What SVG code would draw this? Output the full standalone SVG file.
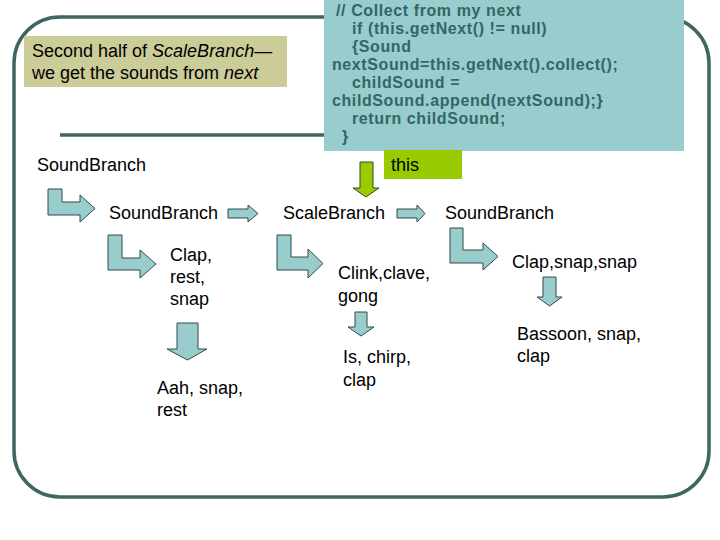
<svg xmlns="http://www.w3.org/2000/svg" width="720" height="540" viewBox="0 0 720 540">
<style>
.frame{fill:none;stroke:#3e6662;stroke-width:3.5}
.lbl{font-family:"Liberation Sans",Arial,sans-serif;font-size:18px;fill:#000}
.code{font-family:"Liberation Sans",Arial,sans-serif;font-size:16px;font-weight:bold;fill:#336666;letter-spacing:0.6px}
.arr{fill:#99cccc;stroke:#2f4a4a;stroke-width:1}
.garr{fill:#99cc00;stroke:#2f4a2a;stroke-width:1}
</style>
<rect width="720" height="540" fill="#fff"/>
<g id="frame">
<rect class="frame" x="14" y="17" width="695" height="480" rx="46" ry="46"/>
<line class="frame" x1="60" y1="135" x2="330" y2="135" stroke-width="4"/>
</g>
<g id="code-box">
<rect x="324" y="0" width="360" height="151" fill="#99cccc"/>
<text class="code" x="336" y="16">// Collect from my next</text>
<text class="code" x="352" y="34">if (this.getNext() != null)</text>
<text class="code" x="352" y="52">{Sound</text>
<text class="code" x="332" y="70">nextSound=this.getNext().collect();</text>
<text class="code" x="352" y="88">childSound =</text>
<text class="code" x="332" y="106">childSound.append(nextSound);}</text>
<text class="code" x="352" y="124">return childSound;</text>
<text class="code" x="342" y="142">}</text>
</g>
<g id="title">
<rect x="24" y="36" width="263" height="51" fill="#cccc99"/>
<text class="lbl" x="32" y="57">Second half of <tspan font-style="italic">ScaleBranch</tspan>—</text>
<text class="lbl" x="32" y="79">we get the sounds from <tspan font-style="italic">next</tspan></text>
</g>
<g id="this-label">
<rect x="384" y="150" width="78" height="29" fill="#99cc00"/>
<text class="lbl" x="391" y="171">this</text>
</g>
<g id="connectors">
<path class="garr" d="M360,162 H373 V188 H379 L366,197 L353,188 H360 Z"/>
<path class="arr" d="M48,189 H62 V202 H80 V195 L95,208.5 L80,222 V215 H48 Z"/>
<path class="arr" d="M108,235 H122 V258 H140 V250 L156,264 L140,278 V270 H108 Z"/>
<path class="arr" d="M277,235 H291 V257 H308 V249 L323,263.5 L308,278 V270 H277 Z"/>
<path class="arr" d="M450,228 H463 V250 H483 V243 L498,256.5 L483,270 V263 H450 Z"/>
<path class="arr" d="M228,209 H248 V205 L258,213.5 L248,222 V218 H228 Z"/>
<path class="arr" d="M397,209 H417 V205 L425,213.5 L417,222 V218 H397 Z"/>
<path class="arr" d="M177,323 H198 V349 H207 L187.5,360 L167,349 H177 Z"/>
<path class="arr" d="M355,312 H367 V327 H374 L361,336 L348,327 H355 Z"/>
<path class="arr" d="M543,277 H556 V297 H562 L549.5,306 L537,297 H543 Z"/>
</g>
<g id="node-soundbranch-root"><text class="lbl" x="37" y="171">SoundBranch</text></g>
<g id="node-soundbranch-1"><text class="lbl" x="109" y="219">SoundBranch</text></g>
<g id="node-scalebranch"><text class="lbl" x="283" y="219">ScaleBranch</text></g>
<g id="node-soundbranch-2"><text class="lbl" x="445" y="219">SoundBranch</text></g>
<g id="node-clap-rest-snap"><text class="lbl" x="170" y="261">Clap,</text><text class="lbl" x="170" y="283">rest,</text><text class="lbl" x="170" y="305">snap</text></g>
<g id="node-aah"><text class="lbl" x="157" y="394">Aah, snap,</text><text class="lbl" x="157" y="416">rest</text></g>
<g id="node-clink"><text class="lbl" x="338" y="279">Clink,clave,</text><text class="lbl" x="338" y="302">gong</text></g>
<g id="node-is-chirp"><text class="lbl" x="343" y="363">Is, chirp,</text><text class="lbl" x="343" y="386">clap</text></g>
<g id="node-clap-snap-snap"><text class="lbl" x="512" y="268">Clap,snap,snap</text></g>
<g id="node-bassoon"><text class="lbl" x="517" y="340">Bassoon, snap,</text><text class="lbl" x="517" y="362">clap</text></g>
</svg>
